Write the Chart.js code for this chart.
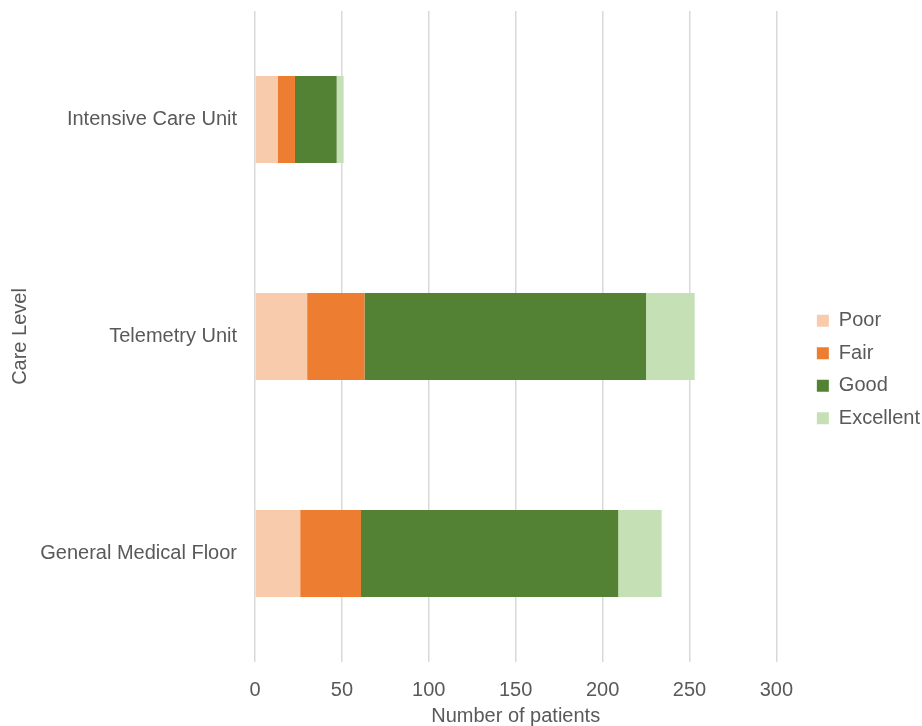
<!DOCTYPE html>
<html>
<head>
<meta charset="utf-8">
<script src="https://cdn.jsdelivr.net/npm/chart.js@4"></script>
<style>
  html, body { margin: 0; padding: 0; background: #fff; }
  #wrap { width: 922px; height: 726px; }
</style>
</head>
<body>
<div id="wrap"><canvas id="grafico"></canvas></div>
<script>
// Datos
const careLevels = ['Intensive Care Unit', 'Telemetry Unit', 'General Medical Floor']
const poor = [13, 30, 26]
const fair = [10, 33, 35]
const good = [24, 162, 148]
const excellent = [4, 28, 25]

const gris = '#595959'
const fuente = { family: "'Liberation Sans', Arial, sans-serif", size: 20 }

Chart.defaults.font = fuente
Chart.defaults.color = gris

const serie = (label, data, color) => ({
  label, data,
  backgroundColor: color,
  borderWidth: 0,
  categoryPercentage: 0.4,
  barPercentage: 1
})

new Chart(document.getElementById('grafico'), {
  type: 'bar',
  data: {
    labels: careLevels,
    datasets: [
      serie('Poor', poor, '#f8cbad'),
      serie('Fair', fair, '#ed7d31'),
      serie('Good', good, '#548235'),
      serie('Excellent', excellent, '#c5e0b4')
    ]
  },
  options: {
    indexAxis: 'y',
    responsive: true,
    maintainAspectRatio: false,
    animation: false,
    layout: { padding: { top: 11, right: -8, bottom: -2, left: 8 } },
    plugins: {
      legend: {
        position: 'right',
        labels: { boxWidth: 12, boxHeight: 12, padding: 12.5, color: gris, font: fuente }
      },
      tooltip: { enabled: false }
    },
    scales: {
      x: {
        stacked: true,
        min: 0,
        max: 300,
        ticks: { stepSize: 50, padding: 16, color: gris, font: fuente },
        grid: { color: '#d9d9d9', lineWidth: 1.5, drawTicks: false },
        border: { display: false },
        title: { display: true, text: 'Number of patients', color: gris, font: fuente, padding: { top: -14, bottom: 0 } }
      },
      y: {
        stacked: true,
        ticks: { padding: 18, color: gris, font: fuente },
        grid: { display: false, drawTicks: false },
        border: { display: false },
        title: { display: true, text: 'Care Level', color: gris, font: fuente, padding: { top: 0, bottom: 5 } },
        // ancho fijo del eje y sin margen extra arriba/abajo
        afterFit: (s) => { s.width = 247; s.paddingTop = 0; s.paddingBottom = 0 }
      },
      // eje vacio a la derecha, solo para separar el grafico de la leyenda
      espacio: {
        type: 'category',
        axis: 'y',
        position: 'right',
        ticks: { display: false },
        grid: { display: false, drawTicks: false },
        border: { display: false },
        afterFit: (s) => { s.width = 28; s.paddingTop = 0; s.paddingBottom = 0 }
      }
    }
  }
})
</script>
</body>
</html>
